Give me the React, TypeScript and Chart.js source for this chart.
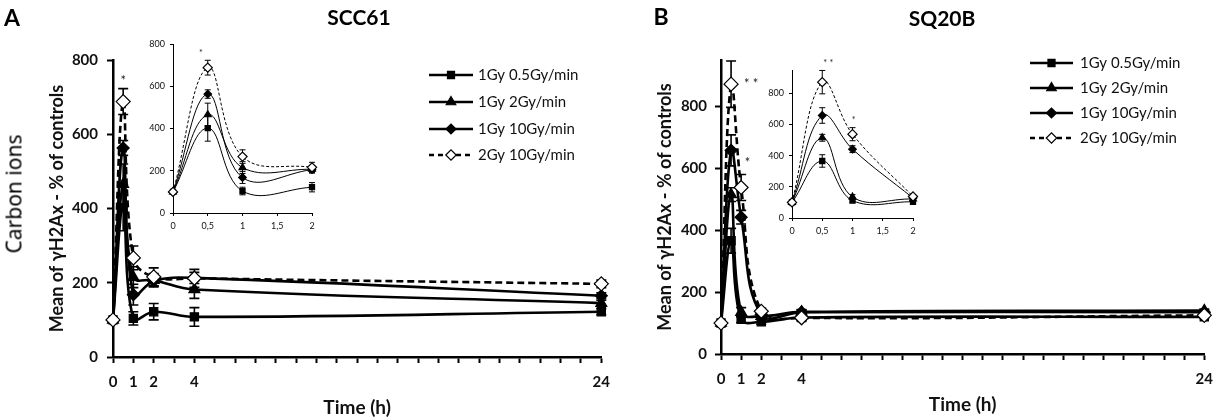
import React, { useEffect, useRef } from 'react';
import { Chart, registerables } from 'chart.js';
import { drawPoint } from 'chart.js/helpers';

Chart.register(...registerables);

const FONT = 'Lato, "Open Sans", sans-serif';

// time points (h)
const timePoints = [0, 0.5, 1, 2, 4, 24];
const timeTickLabels = [0, 1, 2, 4, 24];
const insetMaxTime = 2;

const seriesLabels = ['1Gy 0.5Gy/min', '1Gy 2Gy/min', '1Gy 10Gy/min', '2Gy 10Gy/min'];

// SCC61 - mean of gH2Ax, % of controls
const scc61Low = [100, 402, 104, 122, 108, 122];
const scc61Mid = [100, 465, 215, 207, 182, 145];
const scc61High = [100, 563, 168, 205, 213, 165];
const scc61Double = [100, 688, 267, 216, 212, 197];
const scc61LowErr = [0, 62, 18, 22, 25, 8];
const scc61MidErr = [0, 55, 28, 18, 24, 8];
const scc61HighErr = [0, 20, 28, 14, 15, 8];
const scc61DoubleErr = [0, 35, 32, 24, 24, 10];

// SQ20B
const sq20bLow = [100, 366, 112, 104, 118, 120];
const sq20bMid = [100, 515, 135, 122, 136, 140];
const sq20bHigh = [100, 658, 442, 128, 135, 135];
const sq20bDouble = [100, 872, 538, 138, 117, 125];
const sq20bLowErr = [0, 40, 10, 8, 8, 5];
const sq20bMidErr = [0, 22, 15, 8, 8, 5];
const sq20bHighErr = [0, 50, 22, 8, 8, 5];
const sq20bDoubleErr = [0, 75, 42, 10, 10, 5];

// significance marks
const scc61Stars = [{ x: 0.5, y: 745, text: '*' }];
const scc61InsetStars = [{ x: 0.4, y: 757, text: '*' }];
const sq20bStars = [
  { x: 1.5, y: 874, text: '* *' },
  { x: 1.32, y: 618, text: '*' },
];
const sq20bInsetStars = [
  { x: 0.6, y: 995, text: '* *' },
  { x: 1.02, y: 629, text: '*' },
];

const markers = [
  { pointStyle: 'rect', filled: true, dashed: false, main: 5.8, inset: 3.6, key: 5 },
  { pointStyle: 'triangle', filled: true, dashed: false, main: 6.3, inset: 4, key: 5.5 },
  { pointStyle: 'rectRot', filled: true, dashed: false, main: 6, inset: 3.8, key: 5 },
  { pointStyle: 'rectRot', filled: false, dashed: true, main: 7, inset: 4.6, key: 5.2 },
];

const errorBarPlugin = {
  id: 'errorBars',
  beforeDatasetsDraw(chart: any, _args: any, opts: any) {
    const { ctx } = chart;
    const yScale = chart.scales.y;
    chart.data.datasets.forEach((ds: any, di: number) => {
      const meta = chart.getDatasetMeta(di);
      meta.data.forEach((pt: any, i: number) => {
        const e = ds.errorBars[i];
        if (!e) return;
        const v = ds.data[i].y;
        const x = pt.x;
        const yTop = yScale.getPixelForValue(v + e);
        const yBot = yScale.getPixelForValue(v - e);
        ctx.save();
        ctx.strokeStyle = '#000';
        ctx.lineWidth = opts.width;
        ctx.setLineDash([]);
        ctx.beginPath();
        ctx.moveTo(x, yTop);
        ctx.lineTo(x, yBot);
        ctx.moveTo(x - opts.cap, yTop);
        ctx.lineTo(x + opts.cap, yTop);
        ctx.moveTo(x - opts.cap, yBot);
        ctx.lineTo(x + opts.cap, yBot);
        ctx.stroke();
        ctx.restore();
      });
    });
  },
};

const starPlugin = {
  id: 'stars',
  afterDatasetsDraw(chart: any, _args: any, opts: any) {
    const { ctx } = chart;
    ctx.save();
    ctx.fillStyle = '#222';
    ctx.font = opts.font;
    ctx.textAlign = 'center';
    ctx.textBaseline = 'middle';
    opts.items.forEach((s: any) => {
      ctx.fillText(s.text, chart.scales.x.getPixelForValue(s.x), chart.scales.y.getPixelForValue(s.y));
    });
    ctx.restore();
  },
};

const keyPlugin = {
  id: 'seriesKey',
  afterDraw(chart: any, _args: any, o: any) {
    if (!o.rows) return;
    const { ctx } = chart;
    chart.data.datasets.forEach((ds: any, i: number) => {
      const y = o.rows[i];
      ctx.save();
      ctx.strokeStyle = '#000';
      ctx.lineWidth = o.lineWidth;
      ctx.setLineDash(ds.borderDash.length ? [5, 4] : []);
      ctx.beginPath();
      ctx.moveTo(o.x0, y);
      ctx.lineTo(o.x1, y);
      ctx.stroke();
      ctx.setLineDash([]);
      ctx.fillStyle = ds.pointBackgroundColor;
      ctx.lineWidth = 1.2;
      drawPoint(ctx, { pointStyle: ds.pointStyle, radius: markers[i].key, rotation: 0, borderWidth: 1.2 } as any, (o.x0 + o.x1) / 2, y);
      ctx.fillStyle = '#111';
      ctx.font = o.font;
      ctx.textAlign = 'left';
      ctx.textBaseline = 'middle';
      ctx.fillText(ds.label, o.tx, y);
      ctx.restore();
    });
  },
};

function buildDatasets(values: number[][], errors: number[][], inset: boolean) {
  const n = inset ? timePoints.filter((t) => t <= insetMaxTime).length : timePoints.length;
  return values.map((vals, i) => {
    const m = markers[i];
    return {
      label: seriesLabels[i],
      data: timePoints.slice(0, n).map((t, k) => ({ x: t, y: vals[k] })),
      errorBars: errors[i].slice(0, n),
      borderColor: '#000',
      borderWidth: inset ? 1 : 2.6,
      borderDash: m.dashed ? (inset ? [3, 2] : [7, 4]) : [],
      pointStyle: m.pointStyle,
      pointRadius: inset ? m.inset : m.main,
      pointBackgroundColor: m.filled ? '#000' : '#fff',
      pointBorderColor: '#000',
      pointBorderWidth: 1.2,
      tension: 0.4,
      clip: false,
      order: 3 - i,
    };
  });
}

const tickFont = { family: FONT, size: 15, weight: 'bold' as const };
const yTitleFont = { family: FONT, size: 18, weight: 'bold' as const };
const xTitleFont = { family: FONT, size: 19, weight: 'bold' as const };

function mainConfig(values: number[][], errors: number[][], yMax: number, lay: any, stars: any[], key: any): any {
  return {
    type: 'line',
    data: { datasets: buildDatasets(values, errors, false) },
    options: {
      animation: false,
      responsive: true,
      maintainAspectRatio: false,
      layout: { padding: { top: lay.padTop, right: lay.padRight, left: 0, bottom: 0 } },
      plugins: {
        legend: { display: false },
        tooltip: { enabled: false },
        errorBars: { width: 1.6, cap: 5 },
        stars: { items: stars, font: `13px ${FONT}` },
        seriesKey: key,
      },
      scales: {
        x: {
          type: 'linear',
          min: 0,
          max: 24,
          afterFit: (s: any) => {
            s.height = lay.xHeight;
          },
          ticks: {
            stepSize: 1,
            autoSkip: false,
            maxRotation: 0,
            padding: lay.xTickPad,
            font: tickFont,
            color: '#111',
            callback: (v: number) => (timeTickLabels.includes(v) ? String(v) : ''),
          },
          grid: { drawOnChartArea: false, drawTicks: true, tickLength: 6, tickColor: '#000', tickWidth: 2 },
          border: { color: '#000', width: 2.5 },
          title: { display: true, text: 'Time (h)', font: xTitleFont, color: '#111', padding: { top: 0, bottom: lay.xTitlePad } },
        },
        y: {
          type: 'linear',
          min: 0,
          max: yMax,
          afterFit: (s: any) => {
            s.width = lay.yWidth;
          },
          afterBuildTicks: (s: any) => {
            s.ticks = s.ticks.filter((t: any) => t.value % 200 === 0);
          },
          ticks: { stepSize: 200, padding: lay.yTickPad, font: tickFont, color: '#111' },
          grid: { drawOnChartArea: false, drawTicks: true, tickLength: 6, tickColor: '#000', tickWidth: 2 },
          border: { color: '#000', width: 2.5 },
          title: {
            display: true,
            text: 'Mean of \u03b3H2Ax - % of controls',
            font: yTitleFont,
            color: '#111',
            padding: { top: lay.yTitlePad, bottom: 0 },
          },
        },
      },
    },
    plugins: [errorBarPlugin, starPlugin, keyPlugin],
  };
}

function insetConfig(values: number[][], errors: number[][], yMax: number, lay: any, stars: any[]): any {
  const small = { family: FONT, size: 9 };
  return {
    type: 'line',
    data: { datasets: buildDatasets(values, errors, true) },
    options: {
      animation: false,
      responsive: true,
      maintainAspectRatio: false,
      layout: { padding: { top: lay.padTop, right: lay.padRight, left: 0, bottom: 0 } },
      plugins: {
        legend: { display: false },
        tooltip: { enabled: false },
        errorBars: { width: 1, cap: 3 },
        stars: { items: stars, font: `9px ${FONT}` },
        seriesKey: {},
      },
      scales: {
        x: {
          type: 'linear',
          min: 0,
          max: insetMaxTime,
          afterFit: (s: any) => {
            s.height = lay.xHeight;
          },
          ticks: {
            stepSize: 0.5,
            autoSkip: false,
            maxRotation: 0,
            padding: 5,
            font: small,
            color: '#111',
            callback: (v: number) => String(v).replace('.', ','),
          },
          grid: { drawOnChartArea: false, drawTicks: true, tickLength: 3, tickColor: '#000', tickWidth: 1 },
          border: { color: '#000', width: 1 },
        },
        y: {
          type: 'linear',
          min: 0,
          max: yMax,
          afterFit: (s: any) => {
            s.width = lay.yWidth;
          },
          afterBuildTicks: (s: any) => {
            s.ticks = s.ticks.filter((t: any) => t.value % 200 === 0);
          },
          ticks: { stepSize: 200, padding: 5, font: small, color: '#111' },
          grid: { drawOnChartArea: false, drawTicks: true, tickLength: 3, tickColor: '#000', tickWidth: 1 },
          border: { color: '#000', width: 1 },
        },
      },
    },
    plugins: [errorBarPlugin, starPlugin, keyPlugin],
  };
}

const scc61Values = [scc61Low, scc61Mid, scc61High, scc61Double];
const scc61Errors = [scc61LowErr, scc61MidErr, scc61HighErr, scc61DoubleErr];
const sq20bValues = [sq20bLow, sq20bMid, sq20bHigh, sq20bDouble];
const sq20bErrors = [sq20bLowErr, sq20bMidErr, sq20bHighErr, sq20bDoubleErr];

const makeMainA = () =>
  mainConfig(
    scc61Values,
    scc61Errors,
    800,
    { padTop: 60, padRight: 13, yWidth: 113, xHeight: 62, xTickPad: 10, yTickPad: 9, xTitlePad: 0, yTitlePad: 46 },
    scc61Stars,
    { x0: 429, x1: 473, tx: 478, rows: [75, 102, 129, 155], lineWidth: 2.5, font: `15px ${FONT}` }
  );

const makeInsetA = () =>
  insetConfig(scc61Values, scc61Errors, 800, { padTop: 14, padRight: 18, yWidth: 33, xHeight: 27 }, scc61InsetStars);

const makeMainB = () =>
  mainConfig(
    sq20bValues,
    sq20bErrors,
    950,
    { padTop: 60, padRight: 11, yWidth: 111, xHeight: 65, xTickPad: 10, yTickPad: 8, xTitlePad: 3, yTitlePad: 44 },
    sq20bStars,
    { x0: 420, x1: 463, tx: 470, rows: [63, 88, 113, 138], lineWidth: 2.5, font: `15px ${FONT}` }
  );

const makeInsetB = () =>
  insetConfig(sq20bValues, sq20bErrors, 950, { padTop: 20, padRight: 17, yWidth: 32, xHeight: 27 }, sq20bInsetStars);

interface BoxProps {
  make: () => any;
  left: number;
  top: number;
  width: number;
  height: number;
}

const ChartBox: React.FC<BoxProps> = ({ make, left, top, width, height }) => {
  const ref = useRef<HTMLCanvasElement | null>(null);

  useEffect(() => {
    const ctx = ref.current?.getContext('2d');
    if (!ctx) return;
    const chart = new Chart(ctx, make());
    return () => chart.destroy();
  }, [make]);

  return (
    <div style={{ position: 'absolute', left, top, width, height }}>
      <canvas ref={ref} />
    </div>
  );
};

const Label: React.FC<{ x: number; y: number; size: number; bold?: boolean; rotate?: boolean; font?: string; text: string }> = ({
  x,
  y,
  size,
  bold,
  rotate,
  font,
  text,
}) => (
  <div
    style={{
      position: 'absolute',
      left: x,
      top: y,
      transform: `translate(-50%, -50%)${rotate ? ' rotate(-90deg)' : ''}`,
      whiteSpace: 'nowrap',
      fontFamily: font || FONT,
      fontSize: size,
      fontWeight: bold ? 'bold' : 'normal',
      color: '#000',
      lineHeight: 1,
    }}
  >
    {text}
  </div>
);

export default function App() {
  return (
    <div style={{ position: 'absolute', left: 0, top: 0, width: 1223, height: 419, background: '#fff', overflow: 'hidden' }}>
      <ChartBox make={makeMainA} left={0} top={0} width={620} height={419} />
      <ChartBox make={makeInsetA} left={140} top={30} width={190} height={210} />
      <ChartBox make={makeMainB} left={610} top={0} width={613} height={419} />
      <ChartBox make={makeInsetB} left={760} top={50} width={170} height={195} />
      <Label x={12} y={17} size={23} bold text="A" />
      <Label x={359} y={16} size={21} bold text="SCC61" />
      <Label x={661} y={16} size={23} bold text="B" />
      <Label x={942} y={17} size={21} bold text="SQ20B" />
      <Label x={14} y={194} size={21} rotate font='"Noto Sans", "Open Sans", sans-serif' text="Carbon ions" />
    </div>
  );
}
